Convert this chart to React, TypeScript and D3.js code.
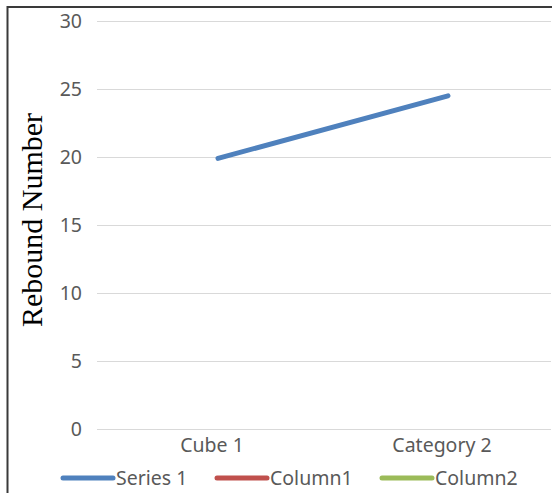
import React, { useEffect, useRef } from 'react';
import * as d3 from 'd3';

const categories = ['Cube 1', 'Category 2'];
const series1 = [19.9, 24.5];
const yTicks = [0, 5, 10, 15, 20, 25, 30];
const legendItems = ['Series 1', 'Column1', 'Column2'];
const legendColors = ['#4F81BD', '#C0504D', '#9BBB59'];

const App: React.FC = () => {
  const svgRef = useRef<SVGSVGElement>(null);

  useEffect(() => {
    if (!svgRef.current) return;
    const svg = d3.select(svgRef.current);
    svg.selectAll('*').remove();

    const W = 556;
    const H = 493;
    const font = '"Noto Sans", "Open Sans", sans-serif';
    const fs = '19.5px';

    svg.attr('width', W).attr('height', H);
    svg.append('rect').attr('width', W).attr('height', H).attr('fill', '#fff');

    // frame (only top & left visible in the crop)
    svg.append('path')
      .attr('d', 'M7.5,493 V7 H552')
      .attr('fill', 'none')
      .attr('stroke', '#3a3a3a')
      .attr('stroke-width', 2);

    const x = d3.scaleBand<string>().domain(categories).range([97, 557]);
    const y = d3.scaleLinear().domain([0, 30]).range([429, 21]);

    // gridlines
    svg.append('g')
      .selectAll('line')
      .data(yTicks)
      .join('line')
      .attr('x1', 97)
      .attr('x2', 551)
      .attr('y1', d => Math.round(y(d)) + 0.5)
      .attr('y2', d => Math.round(y(d)) + 0.5)
      .attr('stroke', '#d9d9d9')
      .attr('stroke-width', 1);

    // y tick labels
    svg.append('g')
      .selectAll('text')
      .data(yTicks)
      .join('text')
      .attr('x', 82)
      .attr('y', d => y(d))
      .attr('dy', '0.35em')
      .attr('text-anchor', 'end')
      .style('font-family', font)
      .style('font-size', fs)
      .style('fill', '#595959')
      .text(d => String(d));

    // x category labels
    svg.append('g')
      .selectAll('text')
      .data(categories)
      .join('text')
      .attr('x', d => (x(d) || 0) + x.bandwidth() / 2)
      .attr('y', 445)
      .attr('dy', '0.35em')
      .attr('text-anchor', 'middle')
      .style('font-family', font)
      .style('font-size', fs)
      .style('fill', '#595959')
      .text(d => d);

    // y axis title
    svg.append('text')
      .attr('transform', 'translate(42,220) rotate(-90)')
      .attr('text-anchor', 'middle')
      .style('font-family', '"Liberation Serif", "Times New Roman", serif')
      .style('font-size', '30px')
      .style('fill', '#000')
      .text('Rebound Number');

    // series line
    const line = d3.line<number>()
      .x((_, i) => (x(categories[i]) || 0) + x.bandwidth() / 2 + 6)
      .y(d => y(d));

    svg.append('path')
      .datum(series1)
      .attr('fill', 'none')
      .attr('stroke', legendColors[0])
      .attr('stroke-width', 5)
      .attr('stroke-linecap', 'round')
      .attr('d', line);

    // legend
    const legendX = [61, 215, 380];
    const lg = svg.append('g');
    legendItems.forEach((name, i) => {
      lg.append('line')
        .attr('x1', legendX[i] + 2)
        .attr('x2', legendX[i] + 52)
        .attr('y1', 478)
        .attr('y2', 478)
        .attr('stroke', legendColors[i])
        .attr('stroke-width', 5)
        .attr('stroke-linecap', 'round');
      lg.append('text')
        .attr('x', legendX[i] + 55)
        .attr('y', 478)
        .attr('dy', '0.35em')
        .style('font-family', font)
        .style('font-size', fs)
        .style('fill', '#595959')
        .text(name);
    });
  }, []);

  return (
    <svg ref={svgRef} style={{ position: 'absolute', left: 0, top: 0, display: 'block' }} />
  );
};

export default App;
